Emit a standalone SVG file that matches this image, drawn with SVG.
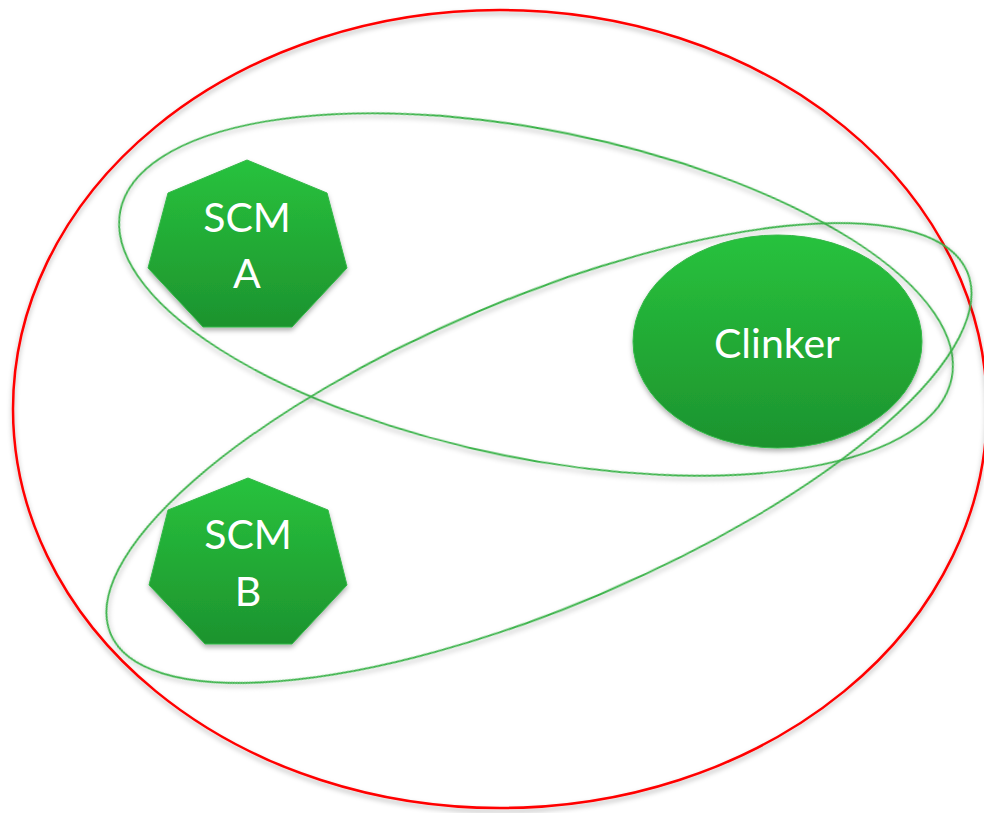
<svg xmlns="http://www.w3.org/2000/svg" width="984" height="813" viewBox="0 0 984 813">
<defs>
<linearGradient id="g" x1="0" y1="0" x2="0" y2="1">
<stop offset="0" stop-color="#28c23d"/>
<stop offset="1" stop-color="#1d932e"/>
</linearGradient>
<filter id="sh" x="-10%" y="-10%" width="120%" height="125%">
<feDropShadow dx="0" dy="3" stdDeviation="2.5" flood-color="#000" flood-opacity="0.3"/>
</filter>
<style>
.ring{fill:none;stroke:#3bb24a;stroke-width:1.8;filter:url(#sh)}
.node{fill:url(#g);stroke:#34b848;stroke-width:1;filter:url(#sh)}
.lbl{fill:#fff;font-family:Lato,"Open Sans","Liberation Sans",sans-serif;font-size:41px;text-anchor:middle}
</style>
</defs>
<rect width="984" height="813" fill="#fff"/>
<g id="connectors">
<ellipse id="outer" cx="500" cy="409" rx="487" ry="399" fill="none" stroke="#ff0000" stroke-width="2.5" filter="url(#sh)"/>
<ellipse id="setA" class="ring" cx="536" cy="294.5" rx="424" ry="164" transform="rotate(11.4 536 294.5)"/>
<ellipse id="setB" class="ring" cx="539" cy="453" rx="465" ry="154" transform="rotate(-22.9 539 453)"/>
</g>
<g id="scmA">
<polygon class="node" points="247,160 327,193 347,268 292,327 203,327 148,268 168,193"/>
<text class="lbl" x="247" y="232">SCM</text>
<text class="lbl" x="247" y="288">A</text>
</g>
<g id="scmB">
<polygon class="node" points="248,478 328,510 347,585 292,644 205,644 149,585 168,510"/>
<text class="lbl" x="248" y="549">SCM</text>
<text class="lbl" x="248" y="606">B</text>
</g>
<g id="clinker">
<ellipse class="node" cx="777.5" cy="341.5" rx="144.5" ry="106.5"/>
<text class="lbl" x="777" y="358">Clinker</text>
</g>
</svg>
